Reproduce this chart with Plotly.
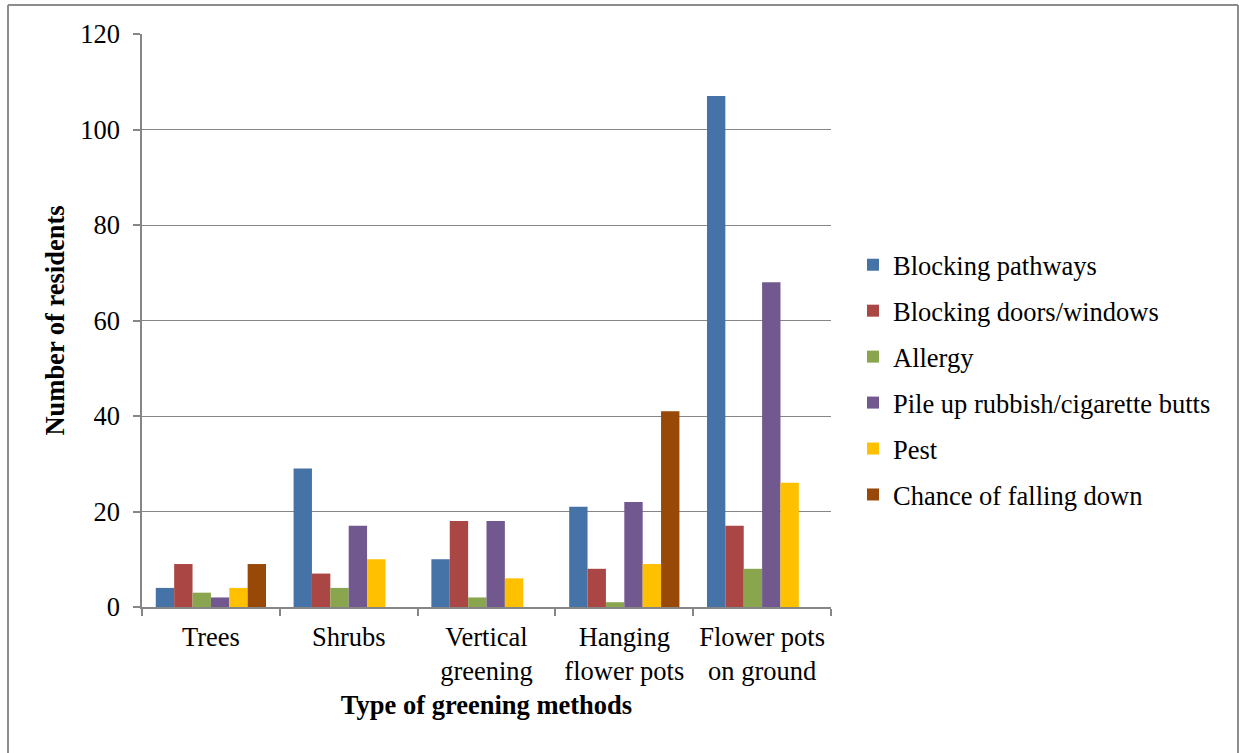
import plotly.graph_objects as go

categories = ["Trees", "Shrubs", "Vertical<br>greening", "Hanging<br>flower pots", "Flower pots<br>on ground"]
blocking_pathways = [4, 29, 10, 21, 107]
blocking_doors_windows = [9, 7, 18, 8, 17]
allergy = [3, 4, 2, 1, 8]
pile_up_rubbish = [2, 17, 18, 22, 68]
pest = [4, 10, 6, 9, 26]
chance_of_falling = [9, 0, 0, 41, 0]

series_names = [
    "Blocking pathways",
    "Blocking doors/windows",
    "Allergy",
    "Pile up rubbish/cigarette butts",
    "Pest",
    "Chance of falling down",
]
series_values = [blocking_pathways, blocking_doors_windows, allergy, pile_up_rubbish, pest, chance_of_falling]
series_colors = ["#4572A7", "#AA4643", "#89A54E", "#71588F", "#FFC000", "#984807"]

font_family = "Liberation Serif"
axis_grey = "#868686"
fsize = 26.5

fig = go.Figure()
for i, (name, vals, col) in enumerate(zip(series_names, series_values, series_colors)):
    fig.add_trace(go.Bar(
        x=categories, y=vals, name=name,
        marker=dict(color=col, line=dict(width=0)),
        legendgroup=f"g{i}",
    ))

# outer frame around the whole chart (left, top, right edges)
L, R, T, B = 142, 831, 34, 607
W, H = R - L, B - T
def px_x(p):
    return (p - L) / W
def px_y(p):
    return (B - p) / H
frame = dict(type="line", xref="paper", yref="paper", line=dict(color="#8c8c8c", width=2))
fig.add_shape(**frame, x0=px_x(8), x1=px_x(8), y0=px_y(5), y1=px_y(770))
fig.add_shape(**frame, x0=px_x(8), x1=px_x(1238), y0=px_y(5), y1=px_y(5))
fig.add_shape(**frame, x0=px_x(1238), x1=px_x(1238), y0=px_y(5), y1=px_y(770))

fig.update_layout(
    width=1239, height=753,
    margin=dict(l=L, r=1239 - R, t=T, b=753 - B, autoexpand=False),
    paper_bgcolor="white", plot_bgcolor="white",
    barmode="group", bargap=0.2, bargroupgap=0,
    font=dict(family=font_family, size=fsize, color="black"),
    legend=dict(
        x=px_x(853), xanchor="left", y=px_y(380), yanchor="middle",
        traceorder="grouped", tracegroupgap=8.5,
        font=dict(family=font_family, size=fsize, color="black"),
        itemwidth=30,
    ),
    xaxis=dict(
        showline=True, linecolor=axis_grey, linewidth=1.5,
        ticks="outside", tickson="boundaries", ticklen=7, tickcolor=axis_grey, tickwidth=1.5,
        tickfont=dict(family=font_family, size=fsize, color="black"),
        ticklabelstandoff=5,
        title=dict(text="<b>Type of greening methods</b>", font=dict(family=font_family, size=fsize), standoff=10),
    ),
    yaxis=dict(
        range=[0, 120], dtick=20,
        showline=True, linecolor=axis_grey, linewidth=1.5,
        showgrid=True, gridcolor=axis_grey, gridwidth=1,
        ticks="outside", ticklen=7, tickcolor=axis_grey, tickwidth=1.5,
        tickfont=dict(family=font_family, size=fsize, color="black"),
        ticklabelstandoff=8,
        title=dict(text="<b>Number of residents</b>", font=dict(family=font_family, size=fsize), standoff=8),
        zeroline=False,
    ),
)

fig.write_html("out.html")
